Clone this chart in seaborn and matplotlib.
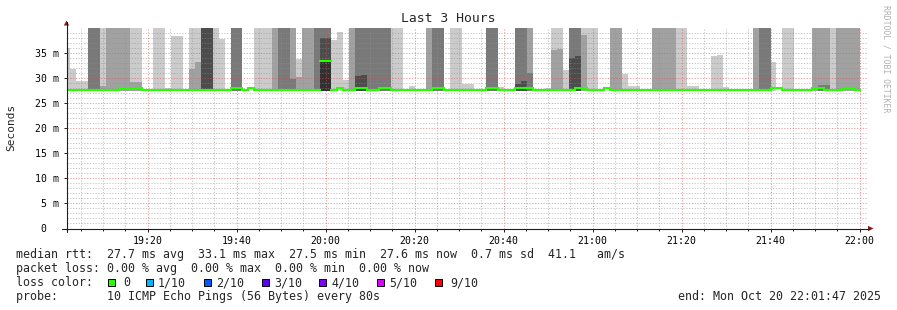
import numpy as np
import pandas as pd
import matplotlib
matplotlib.use("Agg")
import matplotlib.pyplot as plt
import seaborn as sns
from matplotlib.transforms import Affine2D
from matplotlib.patches import Rectangle, Polygon
from matplotlib.lines import Line2D

# ------------------------------------------------------------------ data
TITLE = "Last 3 Hours"
Y_LABEL = "Seconds"
START = "19:01:47"          # left edge of graph
END = "22:01:47"            # right edge of graph
FIRST_BIN = "19:06:40"      # start of RRD bin 0
STEP_S = 80                 # RRD step (seconds)
BASE_MS = 27.3              # lowest ping (bottom of smoke)

# smoke bands: (first bin, end bin, top of band in ms); 41 = beyond graph top
smoke_light = [(-4, -3, 36.0), (-3, -2, 31.8), (-2, 0, 29.3), (2, 3, 41), (7, 9, 41),
               (11, 13, 41), (13, 14, 28.0), (14, 16, 38.3), (17, 19, 41), (21, 22, 41),
               (22, 23, 37.8), (28, 31, 41), (35, 36, 33.8), (41, 42, 37.5), (42, 43, 39.2),
               (43, 44, 29.5), (51, 53, 41), (54, 55, 28.3), (61, 63, 41), (63, 65, 28.7),
               (69, 70, 28.2), (77, 78, 28.0), (78, 80, 41), (80, 81, 31.5), (83, 86, 41),
               (90, 91, 30.8), (91, 93, 28.3), (99, 101, 41), (101, 103, 28.3),
               (105, 106, 34.3), (106, 107, 34.6), (107, 108, 28.2), (115, 116, 33.2),
               (117, 119, 41), (125, 126, 41)]
smoke_mid = [(2, 3, 28.4), (3, 7, 41), (7, 9, 29.2), (17, 18, 31.8), (18, 19, 33.1),
             (31, 32, 41), (34, 35, 41), (35, 36, 30.1), (36, 38, 41), (44, 45, 41),
             (57, 58, 41), (74, 75, 41), (78, 79, 35.6), (79, 80, 35.8), (83, 84, 38.6),
             (88, 90, 41), (95, 99, 41), (112, 113, 41), (122, 125, 41), (126, 130, 41)]
smoke_dark = [(0, 2, 41), (24, 26, 41), (32, 34, 41), (34, 35, 29.8), (38, 41, 41),
              (45, 51, 41), (58, 60, 41), (67, 69, 41), (72, 74, 41), (74, 75, 31.0),
              (81, 83, 41), (113, 115, 41), (123, 124, 28.6), (124, 125, 28.5)]
smoke_darker = [(19, 21, 41), (39, 41, 38.0), (45, 46, 30.3), (46, 47, 30.6),
                (72, 73, 28.8), (73, 74, 29.4), (81, 82, 34.0), (82, 83, 34.3)]
smoke_darkest = [(39, 41, 33.3)]

# median rtt (step function: value holds from this bin on)
median_bin = [-4, 5, 9, 24, 26, 27, 28, 39, 41, 42, 43, 45, 47, 49, 51, 58, 60, 67, 69,
              72, 75, 82, 84, 87, 88, 115, 117, 122, 124, 127, 129, 130]
median_ms = [27.6, 27.9, 27.6, 27.9, 27.6, 27.9, 27.6, 33.3, 27.6, 27.9, 27.6, 27.9, 27.6,
             27.9, 27.6, 27.9, 27.6, 27.9, 27.6, 27.9, 27.6, 27.9, 27.6, 27.9, 27.6, 27.9,
             27.6, 27.9, 27.6, 27.9, 27.6, 27.6]

y_ticks_ms = [0, 5, 10, 15, 20, 25, 30, 35]
y_tick_labels = ["0  ", "5 m", "10 m", "15 m", "20 m", "25 m", "30 m", "35 m"]
x_tick_labels = ["19:20", "19:40", "20:00", "20:20", "20:40", "21:00", "21:20", "21:40", "22:00"]

legend_rtt = "median rtt:  27.7 ms avg  33.1 ms max  27.5 ms min  27.6 ms now  0.7 ms sd  41.1   am/s"
legend_loss = "packet loss: 0.00 % avg  0.00 % max  0.00 % min  0.00 % now"
loss_labels = ["0", "1/10", "2/10", "3/10", "4/10", "5/10", "9/10"]
loss_colors = ["#26ff00", "#00b8ff", "#0059ff", "#5e00ff", "#7e00ff", "#dd00ff", "#ff0000"]
probe_text = "probe:       10 ICMP Echo Pings (56 Bytes) every 80s"
end_text = "end: Mon Oct 20 22:01:47 2025"
watermark = "RRDTOOL / TOBI OETIKER"

# ------------------------------------------------------------------ style
sns.set_style("white")
plt.rcParams["font.family"] = ["DejaVu Sans Mono", "DejaVu Sans"]

W, H = 897, 310
fig = plt.figure(figsize=(W / 100, H / 100), dpi=100)
fig.patch.set_facecolor("white")
px = Affine2D().scale(1 / W, -1 / H).translate(0, 1) + fig.transFigure

AX_L, AX_R, AX_B, AX_T = 66.5, 867.5, 228.5, 27.5
ax = fig.add_axes([AX_L / W, (H - AX_B) / H, (AX_R - AX_L) / W, (AX_B - AX_T) / H])
ax.set_facecolor("white")


def to_min(hms):
    h, m, s = (int(v) for v in hms.split(":"))
    return (h - 19) * 60 + m + s / 60.0


t0 = to_min(FIRST_BIN)
step_min = STEP_S / 60.0

SHADES = [(smoke_light, "#cbcbcb"), (smoke_mid, "#a1a1a1"), (smoke_dark, "#797979"),
          (smoke_darker, "#4c4c4c"), (smoke_darkest, "#303030")]
for segs, col in SHADES:
    df = pd.DataFrame(segs, columns=["b0", "b1", "top"])
    ax.bar(t0 + df["b0"] * step_min, df["top"] - BASE_MS, width=(df["b1"] - df["b0"]) * step_min,
           bottom=BASE_MS, align="edge", color=col, linewidth=0, zorder=1)

# median: horizontal pieces only (one unit per bin run)
rows = []
for i in range(len(median_bin) - 1):
    for b in (median_bin[i], median_bin[i + 1]):
        rows.append({"seg": i, "t": t0 + b * step_min, "ms": median_ms[i]})
med = pd.DataFrame(rows)
sns.lineplot(data=med, x="t", y="ms", units="seg", estimator=None, color="#26ff00",
             linewidth=1.5, ax=ax, zorder=4, solid_capstyle="projecting")

ax.set_xlim(to_min(START), to_min(END))
ax.set_ylim(0, 40)
ax.set_xlabel("")
ax.set_ylabel("")

major_x = [to_min(l + ":00") for l in x_tick_labels]
ax.set_xticks(major_x)
ax.set_xticklabels(x_tick_labels)
ax.set_xticks(np.arange(5, to_min(END), 5), minor=True)
ax.set_yticks(y_ticks_ms)
ax.set_yticklabels(y_tick_labels)
ax.set_yticks(np.arange(0, 40, 1), minor=True)

ax.set_axisbelow(False)
ax.grid(which="minor", color=(143 / 255, 143 / 255, 143 / 255), alpha=0.5, lw=0.72,
        ls=(0, (1.2, 1.6)))
ax.grid(which="major", color=(222 / 255, 79 / 255, 79 / 255), alpha=0.55, lw=0.72,
        ls=(0, (1.2, 1.6)))
for sp in ax.spines.values():
    sp.set_visible(False)

axis_col = (31 / 255, 31 / 255, 31 / 255)
ax.tick_params(axis="x", which="major", length=2, width=0.7, color=axis_col, pad=3.2,
               labelsize=7.1, labelcolor="black", bottom=True)
ax.tick_params(axis="x", which="minor", length=1.5, width=0.7, color=axis_col, bottom=True)
ax.tick_params(axis="y", which="major", length=2, width=0.7, color=axis_col, pad=3.6,
               labelsize=7.1, labelcolor="black", left=True)
ax.tick_params(axis="y", which="minor", length=0)

# axis lines and arrows
arrow_col = (128 / 255, 31 / 255, 31 / 255)
fig.add_artist(Line2D([AX_L, AX_L], [232, 22], transform=px, color=axis_col, lw=0.8))
fig.add_artist(Line2D([62, 869], [AX_B, AX_B], transform=px, color=axis_col, lw=0.8))
fig.add_artist(Polygon([[63.8, 25.5], [69.2, 25.5], [66.5, 20.5]], closed=True,
                       transform=px, color=arrow_col, lw=0))
fig.add_artist(Polygon([[868, 225.8], [868, 231.2], [873.5, 228.5]], closed=True,
                       transform=px, color=arrow_col, lw=0))

# titles
fig.text(448, 19, TITLE, transform=px, ha="center", va="center", fontsize=9.4)
fig.text(11, 127, Y_LABEL, transform=px, ha="center", va="center", rotation=90, fontsize=8)
fig.text(886, 59, watermark, transform=px, ha="center", va="center", rotation=270,
         fontsize=5.9, color="#b0b0b0")

# legend
LFS = 8.4
fig.text(16, 258, legend_rtt, transform=px, ha="left", va="baseline", fontsize=LFS)
fig.text(16, 272, legend_loss, transform=px, ha="left", va="baseline", fontsize=LFS)
fig.text(16, 286, "loss color:", transform=px, ha="left", va="baseline", fontsize=LFS)
box_x = [108, 146, 203.5, 261.5, 319, 377, 435]
lab_x = [123, 158, 216.5, 274, 331.5, 389, 450]
for bx, lx, lab, col in zip(box_x, lab_x, loss_labels, loss_colors):
    fig.add_artist(Rectangle((bx, 286), 7, -7, transform=px, facecolor=col,
                             edgecolor="black", lw=0.7))
    fig.text(lx, 286, lab, transform=px, ha="left", va="baseline", fontsize=LFS)
fig.text(16, 300, probe_text, transform=px, ha="left", va="baseline", fontsize=LFS)
fig.text(881.5, 300, end_text, transform=px, ha="right", va="baseline", fontsize=LFS)

fig.savefig("out.png", dpi=100, facecolor="white")
